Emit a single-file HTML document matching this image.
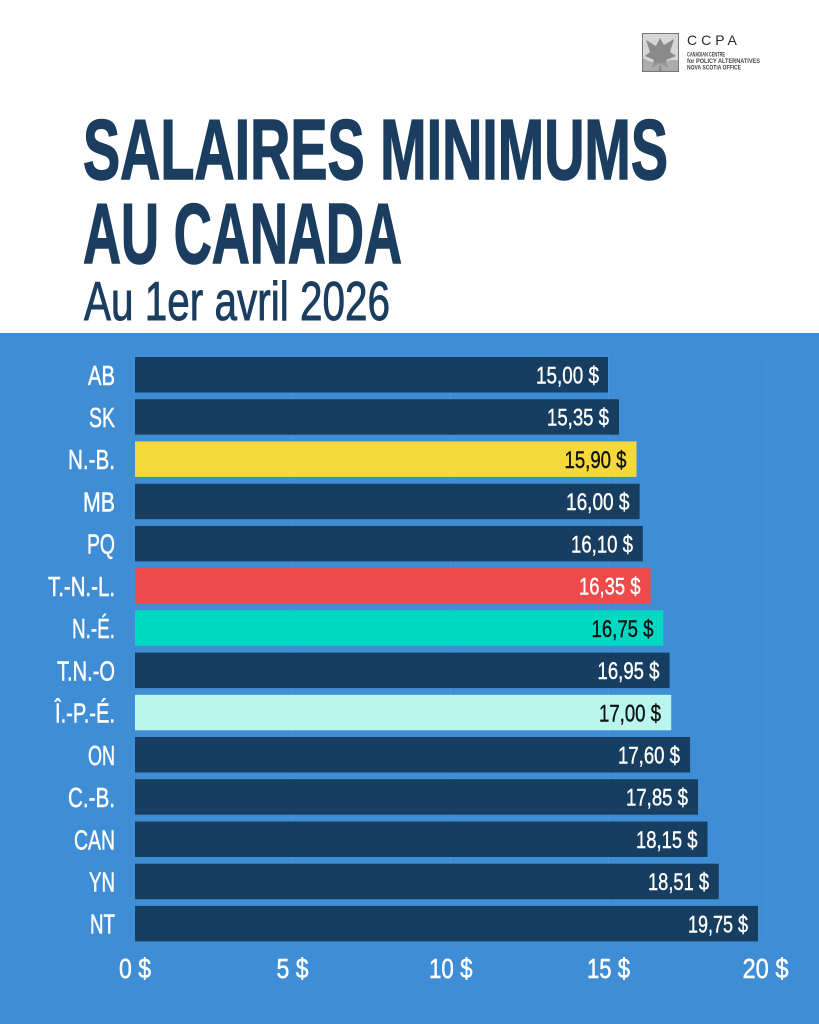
<!DOCTYPE html>
<html>
<head>
<meta charset="utf-8">
<style>
html,body{margin:0;padding:0;background:#fff;}
svg{display:block;}
text{font-family:"Liberation Sans",sans-serif;}
</style>
</head>
<body>
<svg width="819" height="1024" viewBox="0 0 819 1024" xmlns="http://www.w3.org/2000/svg">
  <rect x="0" y="0" width="819" height="1024" fill="#ffffff"/>
  <!-- Logo -->
  <rect x="642.5" y="33.5" width="36" height="38" fill="#d6d6d6" stroke="#777" stroke-width="1"/>
  <path d="M646 40 L656 46 L660 38 L664 45 L674 39 L670 52 L676 56 L666 60 L668 68 L660 63 L652 68 L654 60 L645 56 L650 52 Z" fill="#8a8a8a"/>
  <path d="M660 63 L662 71 L659 71 Z" fill="#666"/>
  <path d="M643 58 Q655 66 670 60 L678 60 L678 71 L643 71 Z" fill="#9a9a9a" opacity="0.7"/>
  <text x="687" y="45" font-size="14" fill="#2a2a2a" letter-spacing="4">CCPA</text>
  <text x="687" y="56.5" font-size="6.5" font-weight="bold" fill="#444" textLength="38" lengthAdjust="spacingAndGlyphs">CANADIAN CENTRE</text>
  <text x="687" y="63" font-size="6.5" font-weight="bold" fill="#444" textLength="73" lengthAdjust="spacingAndGlyphs">for POLICY ALTERNATIVES</text>
  <text x="687" y="69.5" font-size="6.5" font-weight="bold" fill="#444" textLength="54" lengthAdjust="spacingAndGlyphs">NOVA SCOTIA OFFICE</text>

  <!-- Title -->
  <g fill="#1b3d5f" stroke="#1b3d5f">
    <text x="83" y="179" font-size="85" font-weight="bold" stroke-width="1.5" textLength="585" lengthAdjust="spacingAndGlyphs">SALAIRES MINIMUMS</text>
    <text x="83" y="263" font-size="85" font-weight="bold" stroke-width="1.5" textLength="319" lengthAdjust="spacingAndGlyphs">AU CANADA</text>
    <text x="84" y="320" font-size="55" stroke-width="0.9" textLength="306" lengthAdjust="spacingAndGlyphs">Au 1er avril 2026</text>
  </g>

  <!-- Blue panel -->
  <rect x="0" y="333" width="819" height="691" fill="#3f8ed5"/>

  <!-- gridlines -->
  <g stroke="#4f98da" stroke-width="1" stroke-dasharray="2 2">
    <line x1="292.5" y1="357" x2="292.5" y2="941"/>
    <line x1="450.5" y1="357" x2="450.5" y2="941"/>
    <line x1="608.5" y1="357" x2="608.5" y2="941"/>
    <line x1="766.5" y1="357" x2="766.5" y2="941"/>
  </g>

  <!-- Bars -->
  <g>
    <rect x="135" y="357" width="473" height="35.5" fill="#173d60"/>
    <rect x="135" y="399.2" width="484" height="35.5" fill="#173d60"/>
    <rect x="135" y="441.4" width="501.5" height="35.5" fill="#f5d93a"/>
    <rect x="135" y="483.7" width="504.6" height="35.5" fill="#173d60"/>
    <rect x="135" y="525.9" width="507.8" height="35.5" fill="#173d60"/>
    <rect x="135" y="568.1" width="515.7" height="35.5" fill="#ef4a4b"/>
    <rect x="135" y="610.3" width="528.3" height="35.5" fill="#00d8c2"/>
    <rect x="135" y="652.6" width="534.6" height="35.5" fill="#173d60"/>
    <rect x="135" y="694.8" width="536.2" height="35.5" fill="#b9f6ee"/>
    <rect x="135" y="737" width="555.1" height="35.5" fill="#173d60"/>
    <rect x="135" y="779.2" width="563" height="35.5" fill="#173d60"/>
    <rect x="135" y="821.5" width="572.5" height="35.5" fill="#173d60"/>
    <rect x="135" y="863.7" width="583.8" height="35.5" fill="#173d60"/>
    <rect x="135" y="905.9" width="623" height="35.5" fill="#173d60"/>
  </g>

  <!-- Row labels -->
  <g font-size="27.5" fill="#ffffff" stroke="#ffffff" stroke-width="0.5">
    <text x="88" y="384.8" textLength="27" lengthAdjust="spacingAndGlyphs">AB</text>
    <text x="89" y="427" textLength="26" lengthAdjust="spacingAndGlyphs">SK</text>
    <text x="68" y="469.2" textLength="47" lengthAdjust="spacingAndGlyphs">N.-B.</text>
    <text x="83" y="511.5" textLength="32" lengthAdjust="spacingAndGlyphs">MB</text>
    <text x="87" y="553.7" textLength="28" lengthAdjust="spacingAndGlyphs">PQ</text>
    <text x="48" y="595.9" textLength="67" lengthAdjust="spacingAndGlyphs">T.-N.-L.</text>
    <text x="72" y="638.1" textLength="43" lengthAdjust="spacingAndGlyphs">N.-É.</text>
    <text x="57" y="680.4" textLength="58" lengthAdjust="spacingAndGlyphs">T.N.-O</text>
    <text x="55" y="722.6" textLength="60" lengthAdjust="spacingAndGlyphs">Î.-P.-É.</text>
    <text x="88" y="764.8" textLength="27" lengthAdjust="spacingAndGlyphs">ON</text>
    <text x="68" y="807" textLength="47" lengthAdjust="spacingAndGlyphs">C.-B.</text>
    <text x="74" y="849.3" textLength="41" lengthAdjust="spacingAndGlyphs">CAN</text>
    <text x="89" y="891.5" textLength="26" lengthAdjust="spacingAndGlyphs">YN</text>
    <text x="90" y="933.7" textLength="25" lengthAdjust="spacingAndGlyphs">NT</text>
  </g>

  <!-- Value labels -->
  <g font-size="24.5" stroke-width="0.4">
    <text x="536" y="383.5" fill="#ffffff" stroke="#ffffff" textLength="63" lengthAdjust="spacingAndGlyphs">15,00 $</text>
    <text x="547" y="425.7" fill="#ffffff" stroke="#ffffff" textLength="62" lengthAdjust="spacingAndGlyphs">15,35 $</text>
    <text x="564.5" y="467.9" fill="#111111" stroke="#111111" textLength="62" lengthAdjust="spacingAndGlyphs">15,90 $</text>
    <text x="566" y="510.2" fill="#ffffff" stroke="#ffffff" textLength="63.5" lengthAdjust="spacingAndGlyphs">16,00 $</text>
    <text x="571" y="552.4" fill="#ffffff" stroke="#ffffff" textLength="62" lengthAdjust="spacingAndGlyphs">16,10 $</text>
    <text x="579" y="594.6" fill="#ffffff" stroke="#ffffff" textLength="61.5" lengthAdjust="spacingAndGlyphs">16,35 $</text>
    <text x="591.5" y="636.8" fill="#111111" stroke="#111111" textLength="62" lengthAdjust="spacingAndGlyphs">16,75 $</text>
    <text x="597.5" y="679.1" fill="#ffffff" stroke="#ffffff" textLength="62" lengthAdjust="spacingAndGlyphs">16,95 $</text>
    <text x="599" y="721.3" fill="#111111" stroke="#111111" textLength="62" lengthAdjust="spacingAndGlyphs">17,00 $</text>
    <text x="618" y="763.5" fill="#ffffff" stroke="#ffffff" textLength="62" lengthAdjust="spacingAndGlyphs">17,60 $</text>
    <text x="626" y="805.7" fill="#ffffff" stroke="#ffffff" textLength="62" lengthAdjust="spacingAndGlyphs">17,85 $</text>
    <text x="636" y="848" fill="#ffffff" stroke="#ffffff" textLength="61.5" lengthAdjust="spacingAndGlyphs">18,15 $</text>
    <text x="648" y="890.2" fill="#ffffff" stroke="#ffffff" textLength="61" lengthAdjust="spacingAndGlyphs">18,51 $</text>
    <text x="688" y="932.4" fill="#ffffff" stroke="#ffffff" textLength="60" lengthAdjust="spacingAndGlyphs">19,75 $</text>
  </g>

  <!-- Axis labels -->
  <g font-size="27.5" fill="#ffffff" stroke="#ffffff" stroke-width="0.5">
    <text x="119" y="978" textLength="32" lengthAdjust="spacingAndGlyphs">0 $</text>
    <text x="276.5" y="978" textLength="32" lengthAdjust="spacingAndGlyphs">5 $</text>
    <text x="429" y="978" textLength="43.5" lengthAdjust="spacingAndGlyphs">10 $</text>
    <text x="587" y="978" textLength="43" lengthAdjust="spacingAndGlyphs">15 $</text>
    <text x="742.5" y="978" textLength="46" lengthAdjust="spacingAndGlyphs">20 $</text>
  </g>
</svg>
</body>
</html>
